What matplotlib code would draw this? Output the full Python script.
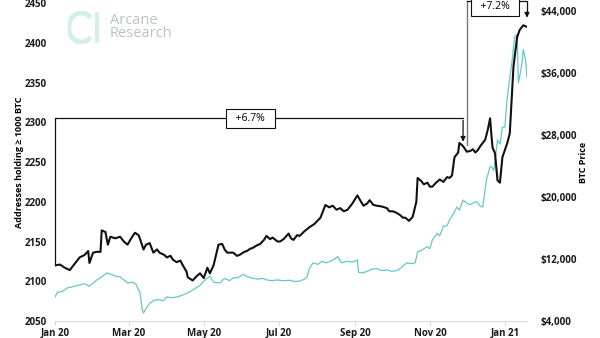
import pandas as pd
import matplotlib
matplotlib.use("Agg")
import matplotlib.pyplot as plt
import matplotlib.dates as mdates
from matplotlib.patches import Arc, Rectangle

plt.rcParams['font.family'] = ['Open Sans', 'DejaVu Sans']

# days since 2020-01-01 and addresses holding >= 1000 BTC
addr_days = [0, 4, 8, 12, 16, 20, 24, 27, 28, 31, 34, 37, 38, 41, 43, 45, 49, 53, 56, 59,
             62, 65, 68, 69, 72, 74, 77, 80, 83, 85, 89, 91, 94, 96, 99, 102, 104, 107, 108, 112,
             115, 118, 121, 124, 126, 129, 133, 136, 138, 140, 145, 148, 150, 154, 156, 159, 161, 164, 167, 170,
             172, 175, 177, 181, 183, 186, 190, 192, 194, 197, 199, 203, 207, 211, 216, 220, 223, 226, 229, 232,
             235, 238, 242, 246, 249, 251, 254, 256, 259, 262, 266, 270, 272, 275, 278, 281, 283, 285, 288, 291,
             294, 295, 298, 300, 303, 305, 307, 310, 313, 316, 319, 321, 323, 325, 328, 329, 332, 335, 338, 340,
             342, 344, 346, 350, 352, 354, 355, 356, 358, 360, 362, 364, 368, 370, 373, 376, 378, 381, 384]
addresses = [2120, 2121, 2117, 2114, 2122, 2130, 2133, 2138, 2123, 2136, 2137, 2137, 2164, 2162, 2146, 2156, 2154, 2156, 2150, 2146,
             2154, 2161, 2158, 2154, 2140, 2146, 2148, 2136, 2140, 2136, 2133, 2130, 2132, 2127, 2124, 2126, 2120, 2112, 2105, 2101,
             2106, 2110, 2104, 2117, 2110, 2120, 2146, 2147, 2140, 2136, 2136, 2132, 2133, 2137, 2138, 2141, 2142, 2145, 2147, 2152,
             2157, 2153, 2155, 2150, 2150, 2153, 2160, 2154, 2152, 2158, 2157, 2163, 2168, 2172, 2180, 2196, 2193, 2195, 2190, 2192,
             2188, 2190, 2198, 2208, 2200, 2195, 2198, 2202, 2196, 2195, 2194, 2192, 2188, 2188, 2186, 2183, 2180, 2180, 2176, 2181,
             2200, 2230, 2226, 2222, 2224, 2219, 2219, 2224, 2228, 2225, 2231, 2230, 2233, 2256, 2262, 2274, 2270, 2263, 2264, 2266,
             2262, 2265, 2270, 2278, 2290, 2305, 2285, 2268, 2261, 2227, 2224, 2256, 2274, 2286, 2370, 2407, 2416, 2422, 2420]

# days since 2020-01-01 and BTC price in USD
price_days = [0, 2, 6, 10, 14, 20, 24, 28, 34, 39, 42, 46, 49, 53, 56, 59, 63, 66, 68, 69,
              71, 72, 74, 77, 81, 85, 88, 91, 95, 99, 103, 107, 112, 115, 118, 122, 126, 129, 134, 138,
              142, 145, 149, 153, 157, 161, 165, 169, 172, 177, 181, 185, 191, 195, 199, 203, 205, 207, 210, 214,
              217, 221, 226, 230, 233, 237, 242, 246, 247, 250, 254, 258, 262, 266, 270, 274, 278, 282, 286, 290,
              293, 295, 298, 303, 305, 307, 311, 313, 316, 319, 321, 324, 327, 329, 332, 335, 338, 341, 343, 346,
              348, 350, 351, 354, 355, 357, 360, 362, 364, 366, 368, 372, 374, 376, 377, 378, 380, 381, 383, 384]
btc_price = [7100, 7700, 7800, 8260, 8400, 8650, 8800, 8500, 9290, 9800, 10190, 10000, 9800, 9700, 9300, 8900, 9000, 8700, 8000, 7800,
             5420, 5030, 5600, 6300, 6700, 6750, 6600, 7100, 7000, 7100, 7300, 7550, 8000, 8300, 8600, 9300, 9800, 9000, 8900, 9500,
             9200, 9550, 9600, 10000, 9700, 9500, 9400, 9500, 9300, 9200, 9300, 9200, 9250, 9100, 9150, 9400, 9700, 10800, 11500, 11300,
             11700, 11500, 11870, 12300, 11500, 11700, 11600, 11870, 10300, 10200, 10400, 10700, 10750, 10500, 10600, 10400, 10500, 10900, 11500, 11400,
             11500, 12900, 13100, 13600, 13300, 14450, 15300, 15000, 16200, 16300, 17000, 17800, 18700, 18300, 19600, 19200, 19000, 19300, 19400, 18800,
             18700, 21000, 22200, 23900, 23900, 23400, 27350, 26800, 29000, 29000, 32900, 37700, 40600, 41000, 34700, 35500, 37300, 39000, 37500, 35400]

start = pd.Timestamp('2020-01-01')
addr_dates = start + pd.to_timedelta(addr_days, unit='D')
price_dates = start + pd.to_timedelta(price_days, unit='D')

fig = plt.figure(figsize=(6, 3.38), dpi=100)
ax = fig.add_axes([0.0917, 0.0503, 0.7866, 0.9407])
ax2 = ax.twinx()

ax2.plot(price_dates, btc_price, color='#66c7c9', lw=0.9)
ax.plot(addr_dates, addresses, color='#111111', lw=1.5)
ax.set_zorder(ax2.get_zorder() + 1)
ax.patch.set_visible(False)

ax.set_xlim(start, start + pd.Timedelta(days=384))
ax.set_ylim(2050, 2450)
ax2.set_ylim(4000, 45000)
ax.set_yticks(range(2050, 2451, 50))
ax2.set_yticks(range(4000, 44001, 8000))
ax2.set_yticklabels(['${:,}'.format(v) for v in range(4000, 44001, 8000)])

ax.xaxis.set_major_locator(mdates.MonthLocator(bymonth=[1, 3, 5, 7, 9, 11]))
ax.xaxis.set_major_formatter(mdates.DateFormatter('%b %y'))

for a in (ax, ax2):
    for s in a.spines.values():
        s.set_visible(False)
ax.spines['bottom'].set_visible(True)
ax.spines['bottom'].set_color('#d8d8d8')
ax.tick_params(axis='x', length=3, color='#d8d8d8', pad=2, labelsize=7)
ax.tick_params(axis='y', length=0, pad=6, labelsize=7)
ax2.tick_params(axis='y', length=0, pad=10, labelsize=7)
for lab in ax.get_xticklabels() + ax.get_yticklabels() + ax2.get_yticklabels():
    lab.set_fontweight('bold')
    lab.set_color('#1a1a1a')

ax.set_ylabel('Addresses holding ≥ 1000 BTC', fontsize=6.5, fontweight='bold', labelpad=0)
ax2.set_ylabel('BTC Price', fontsize=6.5, fontweight='bold', labelpad=1)

box = dict(boxstyle='square,pad=0.4', fc='white', ec='#111111', lw=0.8)

# +6.7% bracket: from the first value to early December
d0 = addr_dates[0]
d1 = start + pd.Timedelta(days=332)
ax.plot([d0, d0, d1], [addresses[0], 2305, 2305], color='#111111', lw=0.9, clip_on=False)
ax.annotate('', xy=(d1, 2272), xytext=(d1, 2306),
            arrowprops=dict(arrowstyle='-|>', color='#111111', lw=0.9, mutation_scale=7))
ax.text(start + pd.Timedelta(days=159), 2305, '  +6.7%  ', ha='center', va='center',
        fontsize=7.5, bbox=box)

# +7.2% bracket: from early December to the latest value
d2 = start + pd.Timedelta(days=335)
d3 = addr_dates[-1]
ax.plot([d2, d2], [2272, 2452], color='#777777', lw=1.0, clip_on=False)
ax.plot([d2, d3, d3], [2452, 2452, 2440], color='#111111', lw=0.9, clip_on=False)
ax.annotate('', xy=(d3, 2428), xytext=(d3, 2441),
            arrowprops=dict(arrowstyle='-|>', color='#111111', lw=0.9, mutation_scale=7),
            annotation_clip=False)
ax.text(start + pd.Timedelta(days=358), 2446, '  +7.2%  ', ha='center', va='center',
        fontsize=7.5, bbox=box, clip_on=False)

# watermark logo
logo = fig.add_axes([0.113, 0.870, 0.0533, 0.0976])
logo.set_xlim(0, 1)
logo.set_ylim(0, 1)
logo.axis('off')
logo.add_patch(Arc((0.42, 0.5), 0.78, 0.88, theta1=45, theta2=315, color='#d2efeb', lw=3.5))
logo.add_patch(Rectangle((0.84, 0.04), 0.13, 0.92, color='#d2efeb', lw=0))
fig.text(0.183, 0.94, 'Arcane', fontsize=10.5, color='#bcc2c5', va='center')
fig.text(0.183, 0.9, 'Research', fontsize=10.5, color='#bcc2c5', va='center')

fig.savefig('out.png', dpi=100)
